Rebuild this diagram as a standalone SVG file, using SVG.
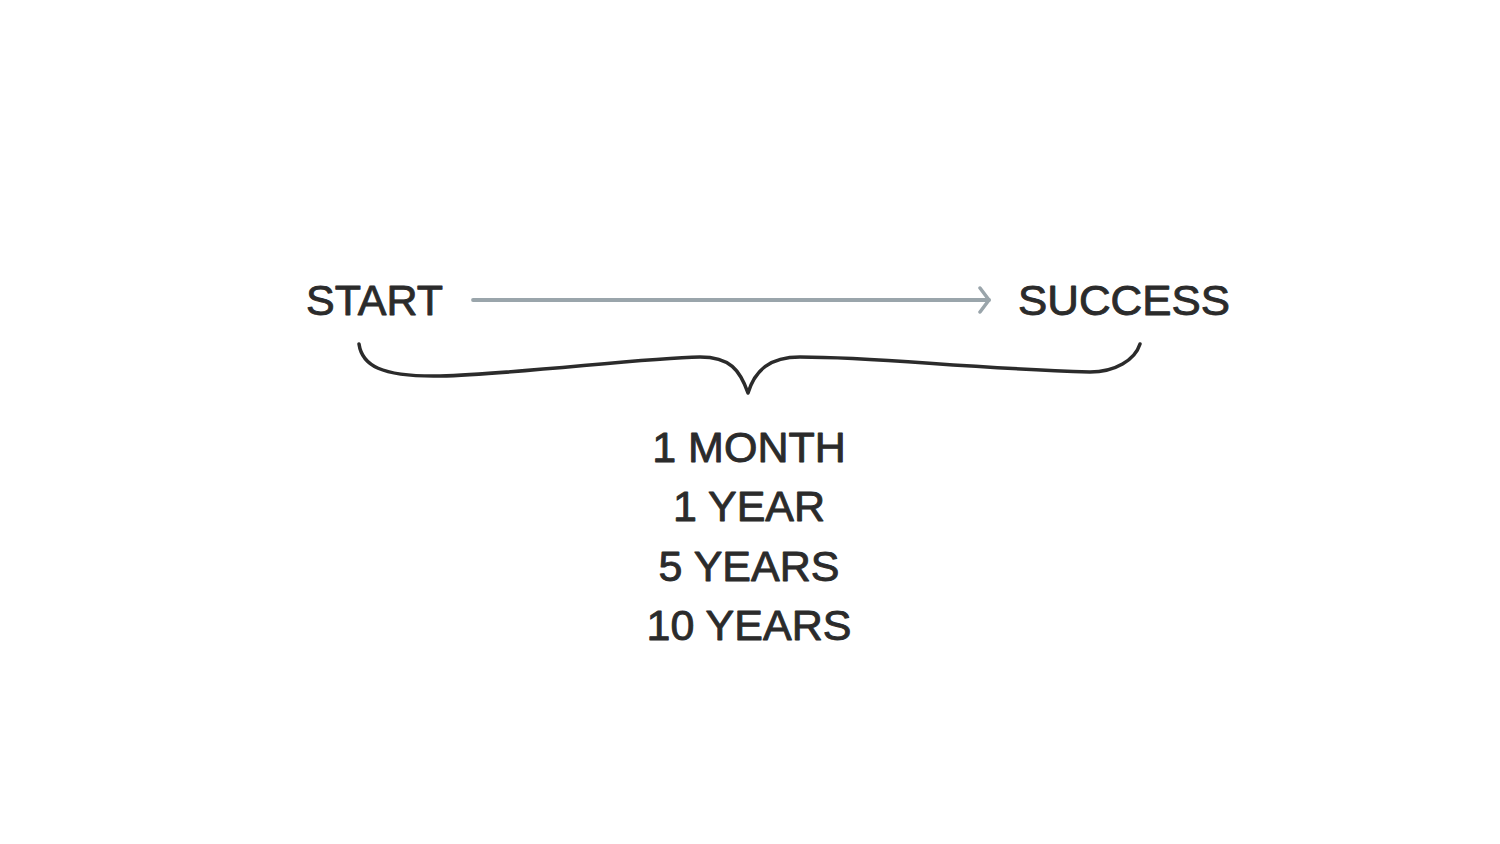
<svg xmlns="http://www.w3.org/2000/svg" width="1500" height="844" viewBox="0 0 1500 844">
<style>
.t{font-family:"Liberation Sans",Arial,sans-serif;font-size:43px;fill:#2b2b2b;stroke:#2b2b2b;stroke-width:0.9;stroke-linejoin:round}
.c{text-anchor:middle}
</style>
<defs>
<marker id="chev" viewBox="0 0 14 28" refX="12" refY="14" markerWidth="14" markerHeight="28" markerUnits="userSpaceOnUse" orient="auto">
<path d="M3,2 L12,14 L3,26" fill="none" stroke="#9aa5ab" stroke-width="3.5" stroke-linecap="round" stroke-linejoin="round"/>
</marker>
</defs>
<rect width="1500" height="844" fill="#ffffff"/>
<g id="start"><text class="t" x="306" y="315" textLength="137" lengthAdjust="spacingAndGlyphs">START</text></g>
<g id="success"><text class="t" x="1018" y="315" textLength="212" lengthAdjust="spacingAndGlyphs">SUCCESS</text></g>
<g id="connectors">
<line x1="473" y1="300" x2="989" y2="300" stroke="#9aa5ab" stroke-width="3.8" stroke-linecap="round" marker-end="url(#chev)"/>
<path d="M359,344 C362,365 380,377 440,376 C520,374 640,358 700,357 C730,357 740,370 748,393 C755,370 770,357 800,357 C880,357 960,368 1090,372 C1115,372 1135,360 1140,344" fill="none" stroke="#2b2b2b" stroke-width="3.5" stroke-linecap="round" stroke-linejoin="round"/>
</g>
<g id="durations">
<text class="t c" x="749" y="462">1 MONTH</text>
<text class="t c" x="749" y="521">1 YEAR</text>
<text class="t c" x="749" y="581">5 YEARS</text>
<text class="t c" x="749" y="640">10 YEARS</text>
</g>
</svg>
